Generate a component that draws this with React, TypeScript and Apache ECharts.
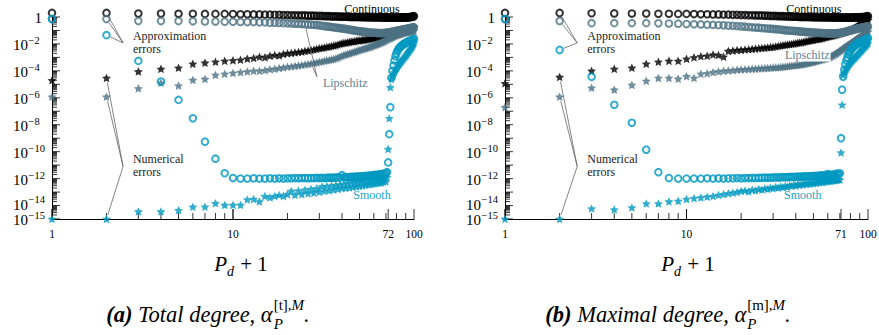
import React, { useEffect, useRef } from 'react';
import * as echarts from 'echarts';

// ---------- data (x = P_d + 1 = 1..100) ----------
const degrees = Array.from({ length: 100 }, (_, i) => i + 1);

// Panel (a): total degree
const contCircA = [2.0, 2.0, 1.8, 1.8, 1.75, 1.75, 1.7, 1.7, 1.7, 1.65,
  1.6, 1.6, 1.55, 1.55, 1.5, 1.5, 1.45, 1.45, 1.4, 1.4,
  1.35, 1.35, 1.3, 1.3, 1.3, 1.25, 1.25, 1.25, 1.2, 1.2,
  1.2, 1.15, 1.15, 1.15, 1.1, 1.1, 1.1, 1.1, 1.05, 1.05,
  1.05, 1.05, 1.05, 1.0, 1.0, 1.0, 1.0, 1.0, 1.0, 0.98,
  0.98, 0.98, 0.97, 0.97, 0.97, 0.96, 0.96, 0.96, 0.95, 0.95,
  0.95, 0.95, 0.94, 0.94, 0.94, 0.94, 0.93, 0.93, 0.93, 0.93,
  0.93, 0.93, 0.92, 0.92, 0.92, 0.92, 0.92, 0.92, 0.92, 0.92,
  0.92, 0.92, 0.92, 0.92, 0.92, 0.93, 0.93, 0.93, 0.94, 0.94,
  0.95, 0.95, 0.96, 0.97, 0.98, 1.0, 1.02, 1.05, 1.1, 1.15];
const contStarA = [2e-5, 3e-5, 9e-5, 1.4e-4, 1.7e-4, 3.3e-4, 4e-4, 4.7e-4, 5.5e-4, 6e-4,
  6.6e-4, 8e-4, 9e-4, 1.1e-3, 1e-3, 1.3e-3, 1.5e-3, 1.4e-3, 1.8e-3, 2e-3,
  2.1e-3, 2.3e-3, 2.5e-3, 2.6e-3, 3e-3, 3.2e-3, 3.5e-3, 3.8e-3, 4.2e-3, 4.8e-3,
  5e-3, 5.5e-3, 6e-3, 6.3e-3, 7e-3, 7.5e-3, 8e-3, 9e-3, 1e-2, 1.1e-2,
  1.2e-2, 1.2e-2, 1.3e-2, 1.4e-2, 1.5e-2, 1.5e-2, 1.6e-2, 1.7e-2, 1.8e-2, 1.8e-2,
  1.9e-2, 2e-2, 2e-2, 2.1e-2, 2.2e-2, 2.3e-2, 2.4e-2, 2.5e-2, 2.6e-2, 2.8e-2,
  3e-2, 3.1e-2, 3.3e-2, 3.5e-2, 3.6e-2, 3.8e-2, 4e-2, 4.2e-2, 4.4e-2, 4.6e-2,
  4.8e-2, 5e-2, 5.3e-2, 5.6e-2, 6e-2, 6.3e-2, 6.6e-2, 7e-2, 7.4e-2, 7.8e-2,
  8.2e-2, 8.6e-2, 9e-2, 9.5e-2, 0.1, 0.105, 0.11, 0.115, 0.12, 0.125,
  0.13, 0.135, 0.14, 0.145, 0.15, 0.155, 0.16, 0.17, 0.18, 0.19];
const lipCircA = [0.7, 0.7, 0.5, 0.5, 0.5, 0.48, 0.47, 0.46, 0.45, 0.44,
  0.43, 0.42, 0.42, 0.4, 0.4, 0.38, 0.38, 0.36, 0.35, 0.34,
  0.33, 0.32, 0.31, 0.3, 0.29, 0.28, 0.27, 0.26, 0.25, 0.24,
  0.22, 0.21, 0.2, 0.19, 0.18, 0.17, 0.16, 0.155, 0.15, 0.14,
  0.135, 0.13, 0.12, 0.115, 0.11, 0.105, 0.1, 0.095, 0.09, 0.088,
  0.085, 0.082, 0.08, 0.078, 0.075, 0.072, 0.07, 0.07, 0.068, 0.068,
  0.066, 0.066, 0.065, 0.065, 0.064, 0.064, 0.065, 0.065, 0.066, 0.067,
  0.068, 0.07, 0.072, 0.075, 0.078, 0.08, 0.083, 0.086, 0.09, 0.093,
  0.096, 0.1, 0.103, 0.106, 0.11, 0.113, 0.116, 0.12, 0.124, 0.128,
  0.132, 0.136, 0.14, 0.144, 0.148, 0.152, 0.156, 0.16, 0.165, 0.17];
const lipStarA = [1.2e-6, 1.2e-6, 5e-6, 1.3e-5, 8e-6, 2.1e-5, 2.5e-5, 5e-5, 6e-5, 7e-5,
  8e-5, 9e-5, 1e-4, 1e-4, 1.1e-4, 1.3e-4, 1.4e-4, 1.6e-4, 1.8e-4, 2e-4,
  2.1e-4, 2.3e-4, 2.5e-4, 2.7e-4, 3e-4, 3.2e-4, 3.5e-4, 3.8e-4, 4.2e-4, 4.7e-4,
  5e-4, 5.5e-4, 6e-4, 6.5e-4, 7e-4, 7.5e-4, 8.5e-4, 9.5e-4, 1.1e-3, 1.3e-3,
  1.5e-3, 1.6e-3, 1.8e-3, 2e-3, 2.2e-3, 2.4e-3, 2.6e-3, 2.9e-3, 3.2e-3, 3.5e-3,
  3.8e-3, 4.1e-3, 4.4e-3, 4.8e-3, 5.2e-3, 5.6e-3, 6e-3, 6.6e-3, 7.2e-3, 7.8e-3,
  8.5e-3, 9.2e-3, 1e-2, 1.1e-2, 1.2e-2, 1.3e-2, 1.4e-2, 1.5e-2, 1.7e-2, 1.9e-2,
  2.1e-2, 2.3e-2, 2.5e-2, 2.8e-2, 3e-2, 3.3e-2, 3.6e-2, 3.9e-2, 4.2e-2, 4.5e-2,
  4.8e-2, 5e-2, 5.3e-2, 5.6e-2, 5.9e-2, 6.2e-2, 6.5e-2, 6.8e-2, 7e-2, 7.3e-2,
  7.5e-2, 7.7e-2, 8e-2, 8.2e-2, 8.4e-2, 8.6e-2, 8.8e-2, 9e-2, 9.2e-2, 9.5e-2];
const smoothCircA = [0.7, 0.045, 5.5e-4, 1.6e-5, 7e-7, 3e-8, 5.5e-10, 3e-11, 2.5e-12, 1.1e-12,
  1e-12, 1e-12, 1.05e-12, 1e-12, 1e-12, 1.05e-12, 1e-12, 1.05e-12, 1e-12, 1.05e-12,
  1.05e-12, 1.1e-12, 1.05e-12, 1.1e-12, 1.1e-12, 1.05e-12, 1.1e-12, 1.1e-12, 1.15e-12, 1.1e-12,
  1.15e-12, 1.1e-12, 1.15e-12, 1.2e-12, 1.15e-12, 1.2e-12, 1.2e-12, 1.25e-12, 1.2e-12, 1.8e-12,
  1.25e-12, 1.3e-12, 1.25e-12, 1.3e-12, 1.35e-12, 1.3e-12, 1.4e-12, 1.35e-12, 1.4e-12, 1.45e-12,
  1.5e-12, 1.45e-12, 1.5e-12, 1.6e-12, 1.55e-12, 1.6e-12, 1.7e-12, 1.65e-12, 1.7e-12, 1.8e-12,
  1.9e-12, 1.8e-12, 1.9e-12, 2e-12, 2.1e-12, 2e-12, 2.2e-12, 2.3e-12, 2.4e-12, 2.6e-12,
  3e-12, 1.6e-11, 2e-9, 2e-7, 3e-5, 1e-4, 2.5e-4, 6e-4, 1.2e-3, 2e-3,
  3e-3, 4e-3, 5e-3, 6e-3, 7e-3, 8e-3, 9e-3, 1e-2, 1.1e-2, 1.2e-2,
  1.3e-2, 1.4e-2, 1.5e-2, 1.6e-2, 1.7e-2, 1.8e-2, 1.9e-2, 2e-2, 2.2e-2, 2.4e-2];
const smoothStarA = [1e-15, 1e-15, 3.6e-15, 3.6e-15, 4.5e-15, 8e-15, 8e-15, 1.5e-14, 1.1e-14, 1.1e-14,
  1.1e-14, 2.8e-14, 3e-14, 2e-14, 5e-14, 4e-14, 5e-14, 6e-14, 5e-14, 7e-14,
  1.2e-13, 6e-14, 1.3e-13, 7e-14, 1.5e-13, 8e-14, 1.7e-13, 9e-14, 1.9e-13, 1e-13,
  2.6e-13, 1.2e-13, 2.8e-13, 1.3e-13, 3e-13, 1.5e-13, 3.3e-13, 1.7e-13, 3.6e-13, 1.9e-13,
  4e-13, 2e-13, 4.4e-13, 2.2e-13, 4.8e-13, 2.4e-13, 5.2e-13, 2.6e-13, 5.6e-13, 2.8e-13,
  6e-13, 3e-13, 6.5e-13, 3.3e-13, 7e-13, 3.6e-13, 7.5e-13, 3.9e-13, 8e-13, 4.2e-13,
  8.6e-13, 4.5e-13, 9.2e-13, 4.8e-13, 1e-12, 5.2e-13, 1.1e-12, 5.6e-13, 1.2e-12, 6e-13,
  1.3e-12, 1.6e-10, 3e-8, 6e-6, 2.5e-5, 4e-5, 6e-5, 8e-5, 1.1e-4, 1.5e-4,
  2e-4, 2.6e-4, 3.3e-4, 4e-4, 5e-4, 6.2e-4, 7.5e-4, 9e-4, 1.1e-3, 1.3e-3,
  1.6e-3, 2e-3, 2.5e-3, 3e-3, 3.7e-3, 4.5e-3, 5.5e-3, 7e-3, 9e-3, 1.2e-2];

// Panel (b): maximal degree
const contCircB = [2.0, 2.0, 1.9, 1.85, 1.8, 1.8, 1.75, 1.75, 1.7, 1.7,
  1.65, 1.6, 1.6, 1.55, 1.55, 1.5, 1.5, 1.45, 1.45, 1.4,
  1.4, 1.35, 1.35, 1.3, 1.3, 1.3, 1.25, 1.25, 1.2, 1.2,
  1.2, 1.15, 1.15, 1.15, 1.1, 1.1, 1.1, 1.05, 1.05, 1.05,
  1.05, 1.0, 1.0, 1.0, 1.0, 1.0, 0.98, 0.98, 0.98, 0.97,
  0.97, 0.97, 0.96, 0.96, 0.96, 0.95, 0.95, 0.95, 0.95, 0.94,
  0.94, 0.94, 0.94, 0.93, 0.93, 0.93, 0.93, 0.93, 0.92, 0.92,
  0.92, 0.92, 0.92, 0.92, 0.92, 0.92, 0.92, 0.92, 0.92, 0.92,
  0.92, 0.92, 0.92, 0.93, 0.93, 0.93, 0.94, 0.94, 0.95, 0.95,
  0.96, 0.97, 0.98, 0.99, 1.0, 1.02, 1.04, 1.07, 1.1, 1.15];
const contStarB = [1.2e-5, 3.5e-5, 1e-4, 1.4e-4, 1.7e-4, 3.3e-4, 4.7e-4, 5.5e-4, 5.5e-4, 7.8e-4,
  1e-3, 1.2e-3, 1.3e-3, 1.6e-3, 1.5e-3, 1.1e-3, 3e-3, 3.2e-3, 3.5e-3, 3.6e-3,
  3.8e-3, 4e-3, 4.2e-3, 4.5e-3, 4.7e-3, 5e-3, 5.2e-3, 5.5e-3, 5.8e-3, 6e-3,
  6.5e-3, 7e-3, 7.5e-3, 8e-3, 8.5e-3, 9e-3, 9.5e-3, 1e-2, 1.05e-2, 1.1e-2,
  1.2e-2, 1.25e-2, 1.3e-2, 1.4e-2, 1.5e-2, 1.6e-2, 1.7e-2, 1.8e-2, 1.9e-2, 2e-2,
  2.1e-2, 2.2e-2, 2.3e-2, 2.4e-2, 2.5e-2, 2.7e-2, 2.9e-2, 3.1e-2, 3.3e-2, 3.5e-2,
  3.7e-2, 3.9e-2, 4.1e-2, 4.3e-2, 4.5e-2, 4.8e-2, 5.1e-2, 5.4e-2, 5.7e-2, 6e-2,
  6.4e-2, 6.8e-2, 7.2e-2, 7.6e-2, 8e-2, 8.5e-2, 9e-2, 9.5e-2, 0.1, 0.11,
  0.12, 0.13, 0.14, 0.15, 0.16, 0.18, 0.2, 0.22, 0.24, 0.26,
  0.28, 0.3, 0.33, 0.36, 0.4, 0.44, 0.48, 0.52, 0.56, 0.6];
const lipCircB = [0.7, 0.5, 0.35, 0.35, 0.35, 0.35, 0.34, 0.33, 0.32, 0.3,
  0.29, 0.28, 0.27, 0.26, 0.25, 0.24, 0.23, 0.22, 0.21, 0.2,
  0.19, 0.18, 0.17, 0.165, 0.16, 0.15, 0.145, 0.14, 0.135, 0.13,
  0.125, 0.12, 0.115, 0.11, 0.105, 0.1, 0.098, 0.095, 0.092, 0.09,
  0.088, 0.085, 0.083, 0.08, 0.078, 0.076, 0.075, 0.073, 0.072, 0.07,
  0.069, 0.068, 0.067, 0.066, 0.065, 0.064, 0.063, 0.062, 0.062, 0.061,
  0.061, 0.06, 0.06, 0.06, 0.06, 0.061, 0.062, 0.063, 0.064, 0.065,
  0.067, 0.07, 0.073, 0.076, 0.08, 0.084, 0.088, 0.092, 0.096, 0.1,
  0.105, 0.11, 0.115, 0.12, 0.125, 0.13, 0.135, 0.14, 0.145, 0.15,
  0.155, 0.16, 0.165, 0.17, 0.175, 0.18, 0.185, 0.19, 0.195, 0.2];
const lipStarB = [2e-7, 1.2e-6, 5.5e-6, 4e-6, 9e-6, 1.8e-5, 3e-5, 3e-5, 2.6e-5, 4e-5,
  3e-5, 6e-5, 6.5e-5, 8e-5, 9e-5, 1e-4, 1.05e-4, 1.1e-4, 1.2e-4, 1.25e-4,
  1.3e-4, 1.35e-4, 1.4e-4, 1.45e-4, 1.5e-4, 1.55e-4, 1.6e-4, 1.65e-4, 1.7e-4, 1.75e-4,
  1.8e-4, 1.85e-4, 1.9e-4, 2e-4, 2.1e-4, 2.2e-4, 2.3e-4, 2.4e-4, 2.5e-4, 2.6e-4,
  2.7e-4, 2.8e-4, 3e-4, 3.2e-4, 3.4e-4, 3.6e-4, 3.8e-4, 4e-4, 4.3e-4, 4.6e-4,
  5e-4, 5.4e-4, 5.8e-4, 6.2e-4, 6.6e-4, 7e-4, 7.5e-4, 8e-4, 8.6e-4, 9.2e-4,
  1e-3, 1.1e-3, 1.25e-3, 1.4e-3, 1.6e-3, 1.8e-3, 2e-3, 2.3e-3, 2.6e-3, 3e-3,
  3.4e-3, 3.9e-3, 4.5e-3, 5.2e-3, 6e-3, 6.8e-3, 7.6e-3, 8.5e-3, 9.5e-3, 1.05e-2,
  1.2e-2, 1.35e-2, 1.5e-2, 1.7e-2, 1.9e-2, 2.1e-2, 2.3e-2, 2.6e-2, 2.9e-2, 3.2e-2,
  3.5e-2, 3.9e-2, 4.3e-2, 4.8e-2, 5.3e-2, 5.8e-2, 6.4e-2, 7e-2, 7.6e-2, 8.2e-2];
const smoothCircB = [0.7, 3.6e-3, 3.6e-5, 3e-7, 1.4e-8, 1.4e-10, 3e-12, 1.1e-12, 1e-12, 1e-12,
  1e-12, 1e-12, 1.05e-12, 1e-12, 1.05e-12, 1e-12, 1.05e-12, 1.05e-12, 1.1e-12, 1.05e-12,
  1.1e-12, 1.1e-12, 1.15e-12, 1.1e-12, 1.15e-12, 1.15e-12, 1.2e-12, 1.15e-12, 1.2e-12, 1.2e-12,
  1.25e-12, 1.2e-12, 1.25e-12, 1.3e-12, 1.25e-12, 1.3e-12, 1.3e-12, 1.35e-12, 1.3e-12, 1.35e-12,
  1.4e-12, 1.35e-12, 1.4e-12, 1.45e-12, 1.4e-12, 1.5e-12, 1.45e-12, 1.5e-12, 1.55e-12, 1.5e-12,
  1.6e-12, 1.55e-12, 1.6e-12, 1.65e-12, 1.7e-12, 1.65e-12, 1.7e-12, 1.8e-12, 1.75e-12, 2.2e-12,
  1.8e-12, 1.9e-12, 1.85e-12, 1.9e-12, 2e-12, 1.95e-12, 2.4e-12, 2.1e-12, 2.2e-12, 2.5e-12,
  1e-9, 4e-6, 3.6e-5, 1.2e-4, 3e-4, 6e-4, 1e-3, 1.6e-3, 2.2e-3, 3e-3,
  4e-3, 5e-3, 6e-3, 7e-3, 8e-3, 9e-3, 1e-2, 1.1e-2, 1.2e-2, 1.3e-2,
  1.4e-2, 1.5e-2, 1.6e-2, 1.7e-2, 1.8e-2, 1.9e-2, 2e-2, 2.2e-2, 2.4e-2, 2.6e-2];
const smoothStarB = [1e-15, 1e-15, 6e-15, 5e-15, 7e-15, 1.4e-14, 1.4e-14, 2e-14, 2.2e-14, 3e-14,
  3.5e-14, 4e-14, 4.5e-14, 5e-14, 6e-14, 7e-14, 8e-14, 9e-14, 1e-13, 1.2e-13,
  1.3e-13, 1.1e-13, 1.5e-13, 1.3e-13, 1.7e-13, 1.5e-13, 1.9e-13, 1.7e-13, 2.1e-13, 1.9e-13,
  2.4e-13, 2.1e-13, 2.6e-13, 2.3e-13, 2.9e-13, 2.5e-13, 3.2e-13, 2.8e-13, 3.5e-13, 3e-13,
  3.8e-13, 3.3e-13, 4.1e-13, 3.6e-13, 4.4e-13, 3.9e-13, 4.7e-13, 4.2e-13, 5e-13, 4.5e-13,
  5.4e-13, 4.8e-13, 5.8e-13, 5.1e-13, 6.2e-13, 5.4e-13, 6.6e-13, 5.8e-13, 7e-13, 6.2e-13,
  7.4e-13, 6.6e-13, 7.8e-13, 7e-13, 8.3e-13, 7.4e-13, 8.8e-13, 7.8e-13, 9.3e-13, 8.3e-13,
  8.5e-11, 3e-7, 5e-5, 7e-5, 1e-4, 1.4e-4, 1.9e-4, 2.5e-4, 3.2e-4, 4e-4,
  5e-4, 6e-4, 7.2e-4, 8.5e-4, 1e-3, 1.2e-3, 1.4e-3, 1.7e-3, 2e-3, 2.4e-3,
  2.8e-3, 3.3e-3, 3.9e-3, 4.6e-3, 5.4e-3, 6.3e-3, 7.4e-3, 8.6e-3, 1e-2, 1.2e-2];

// axis tick labels
const xLabelValsA = [1, 10, 72, 100];
const xLabelsA = ['1', '10', '72', '100'];
const xLabelValsB = [1, 10, 71, 100];
const xLabelsB = ['1', '10', '71', '100'];
const yLabelVals = [1, 1e-2, 1e-4, 1e-6, 1e-8, 1e-10, 1e-12, 1e-14, 1e-15];
const yLabelExps = ['0', '−2', '−4', '−6', '−8', '−10', '−12', '−14', '−15'];

// ---------- style ----------
const FAM = '"Liberation Serif", "Times New Roman", serif';
const BLACK = '#000000';
const LIP = '#4d7283';
const SMOOTH = '#0098c1';
const Y_MIN = 1e-15;
const STAR = 'path://M0,-50L14.11,-19.42L47.55,-15.45L22.83,7.42L29.39,40.45L0,24L-29.39,40.45L-22.83,7.42L-47.55,-15.45L-14.11,-19.42Z';

let _ctx: CanvasRenderingContext2D | null = null;
function tw(text: string, font: string) {
  if (!_ctx) _ctx = document.createElement('canvas').getContext('2d');
  _ctx!.font = font;
  return _ctx!.measureText(text).width;
}

function scatter(grid: number, vals: number[], color: string, kind: 'circle' | 'star', z: number) {
  const data = degrees.map((d, i) => [d, vals[i]]);
  if (kind === 'circle') {
    return {
      type: 'scatter', xAxisIndex: grid, yAxisIndex: grid, data, symbol: 'circle', symbolSize: 6.6,
      itemStyle: { color: 'rgba(0,0,0,0)', borderColor: color, borderWidth: 2 },
      clip: false, silent: true, z,
    };
  }
  return {
    type: 'scatter', xAxisIndex: grid, yAxisIndex: grid, data, symbol: STAR, symbolSize: 9,
    symbolKeepAspect: true, itemStyle: { color, borderWidth: 0 }, clip: false, silent: true, z,
  };
}

function decor(grid: number, xVals: number[], xLabels: string[]) {
  const fBase = `15px ${FAM}`, fSup = `10.5px ${FAM}`;
  const w10 = tw('10', fBase);
  return {
    type: 'custom', xAxisIndex: grid, yAxisIndex: grid, data: [[1, 1]], silent: true, clip: false, z: 1,
    renderItem: (_p: any, api: any) => {
      const ch: any[] = [];
      const line = (x1: number, y1: number, x2: number, y2: number) =>
        ch.push({ type: 'line', shape: { x1, y1, x2, y2 }, style: { stroke: '#000', lineWidth: 0.8 } });
      for (const dec of [1, 10]) {
        for (let m = 1; m <= 9; m++) {
          const p = api.coord([dec * m, Y_MIN]);
          line(p[0], p[1], p[0], p[1] - (m === 1 ? 10 : 6));
        }
      }
      xVals.forEach((v) => {
        const p = api.coord([v, Y_MIN]);
        line(p[0], p[1], p[0], p[1] - 10);
      });
      for (let e = -15; e <= 0; e++) {
        for (let m = 1; m <= 9; m++) {
          const v = m * Math.pow(10, e);
          if (v > 1.0001) break;
          const p = api.coord([1, v]);
          line(p[0], p[1], p[0] + (m === 1 ? 8 : 5), p[1]);
        }
      }
      xVals.forEach((v, i) => {
        const p = api.coord([v, Y_MIN]);
        ch.push({ type: 'text', x: p[0], y: p[1] + 9, style: { text: xLabels[i], font: `11.5px ${FAM}`, fill: '#000', align: 'center', verticalAlign: 'top' } });
      });
      yLabelVals.forEach((v, i) => {
        const p = api.coord([1, v]);
        if (yLabelExps[i] === '0') {
          ch.push({ type: 'text', x: p[0] - 10, y: p[1] + 1, style: { text: '1', font: fBase, fill: '#000', align: 'right', verticalAlign: 'middle' } });
        } else {
          const x0 = p[0] - 39;
          const dy = yLabelExps[i] === '−14' ? -1 : (yLabelExps[i] === '−15' ? 1 : 1.5);
          ch.push({ type: 'text', x: x0, y: p[1] + dy, style: { text: '10', font: fBase, fill: '#000', align: 'left', verticalAlign: 'middle' } });
          ch.push({ type: 'text', x: x0 + w10 + 0.5, y: p[1] + dy - 5, style: { text: yLabelExps[i], font: fSup, fill: '#000', align: 'left', verticalAlign: 'middle' } });
        }
      });
      return { type: 'group', children: ch };
    },
  };
}

type Ann = { texts: any[]; pointers: { joint: number[]; to: number[][] }[] };

const annA: Ann = {
  texts: [
    { text: 'Continuous', at: [58.6, 3.8], align: 'center', color: '#000' },
    { text: 'Approximation\nerrors', at: [2.8, 0.013], align: 'left', color: '#222' },
    { text: 'Numerical\nerrors', at: [2.8, 1e-11], align: 'left', color: '#222' },
    { text: 'Lipschitz', at: [31.4, 1.3e-5], align: 'left', color: '#5e8191' },
    { text: 'Smooth', at: [58.6, 6.5e-14], align: 'center', color: '#1aa2c9' },
  ],
  pointers: [
    { joint: [2.47, 0.0119], to: [[2, contCircA[1]], [2, lipCircA[1]], [2, smoothCircA[1]]] },
    { joint: [2.47, 8e-12], to: [[2, contStarA[1]], [2, lipStarA[1]], [2, smoothStarA[1]]] },
    { joint: [29.1, 3.6e-5], to: [[25, lipCircA[24]], [27, lipStarA[26]]] },
  ],
};
const annB: Ann = {
  texts: [
    { text: 'Continuous', at: [50.3, 3.8], align: 'center', color: '#000' },
    { text: 'Approximation\nerrors', at: [2.84, 0.013], align: 'left', color: '#222' },
    { text: 'Numerical\nerrors', at: [2.84, 1e-11], align: 'left', color: '#222' },
    { text: 'Lipschitz', at: [34.4, 1.4e-3], align: 'left', color: '#5e8191', bg: true },
    { text: 'Smooth', at: [43.7, 6.5e-14], align: 'center', color: '#1aa2c9' },
  ],
  pointers: [
    { joint: [2.5, 0.0119], to: [[2, contCircB[1]], [2, lipCircB[1]], [2, smoothCircB[1]]] },
    { joint: [2.5, 8e-12], to: [[2, contStarB[1]], [2, lipStarB[1]], [2, smoothStarB[1]]] },
  ],
};

function annotations(grid: number, ann: Ann) {
  return {
    type: 'custom', xAxisIndex: grid, yAxisIndex: grid, data: [[1, 1]], silent: true, clip: false, z: 6,
    renderItem: (_p: any, api: any) => {
      const ch: any[] = [];
      ann.pointers.forEach((pt) => {
        const j = api.coord(pt.joint);
        pt.to.forEach((t) => {
          const q = api.coord(t);
          const dx = q[0] - j[0], dy = q[1] - j[1];
          const len = Math.sqrt(dx * dx + dy * dy);
          const k = (len - 4.5) / len;
          ch.push({ type: 'line', shape: { x1: j[0], y1: j[1], x2: j[0] + dx * k, y2: j[1] + dy * k }, style: { stroke: '#666', lineWidth: 0.8 } });
        });
      });
      ann.texts.forEach((t) => {
        const p = api.coord(t.at);
        const lines = String(t.text).split('\n');
        const lh = 13;
        lines.forEach((ln: string, li: number) => {
          const style: any = { text: ln, font: `12px ${FAM}`, fill: t.color, align: t.align, verticalAlign: 'middle' };
          if (t.bg) { style.backgroundColor = '#ffffff'; style.padding = [0, 1]; }
          ch.push({ type: 'text', x: p[0], y: p[1] + (li - (lines.length - 1) / 2) * lh, style });
        });
      });
      return { type: 'group', children: ch };
    },
  };
}

function txt(x: number, y: number, text: string, font: string) {
  return { type: 'text', x, y, silent: true, style: { text, font, fill: '#000', align: 'left', verticalAlign: 'middle' } };
}

function axisTitle(cx: number, cy: number) {
  const fBig = `italic 21px ${FAM}`, fSub = `italic 14px ${FAM}`, fUp = `21px ${FAM}`;
  const w1 = tw('P', fBig), w2 = tw('d', fSub), w3 = tw(' + 1', fUp);
  let x = cx - (w1 + w2 + 1 + w3) / 2;
  const els = [txt(x, cy, 'P', fBig)];
  x += w1;
  els.push(txt(x, cy + 7, 'd', fSub));
  x += w2 + 1;
  els.push(txt(x, cy, ' + 1', fUp));
  return els;
}

function caption(cx: number, cy: number, label: string, body: string, supUp: string) {
  const fs = 22.5, sm = 15;
  const fB = `italic bold ${fs}px ${FAM}`, fI = `italic ${fs}px ${FAM}`;
  const fSI = `italic ${sm}px ${FAM}`, fS = `${sm}px ${FAM}`;
  const w1 = tw(label, fB), w2 = tw(body, fI);
  const wSub = tw('P', fSI), wUp = tw(supUp, fS), wIt = tw(',M', fSI), wDot = tw('.', fI);
  const wMid = Math.max(wSub + 1, wUp + wIt);
  let x = cx - (w1 + w2 + wMid + wDot + 1) / 2;
  const els = [txt(x, cy, label, fB)];
  x += w1;
  els.push(txt(x, cy, body, fI));
  x += w2;
  els.push(txt(x + 1, cy + 10, 'P', fSI));
  els.push(txt(x + 1, cy - 9, supUp, fS));
  els.push(txt(x + 1 + wUp, cy - 9, ',M', fSI));
  x += wMid + 1;
  els.push(txt(x, cy, '.', fI));
  return els;
}

function axes(grid: number) {
  const common = {
    gridIndex: grid, type: 'log', logBase: 10,
    axisLine: { show: true, lineStyle: { color: '#000', width: 1 } },
    axisTick: { show: false }, axisLabel: { show: false }, splitLine: { show: false },
  };
  return {
    x: { ...common, min: 1, max: 100 },
    y: { ...common, min: Y_MIN, max: 1 },
  };
}

export default function App() {
  const ref = useRef<HTMLDivElement>(null);
  useEffect(() => {
    if (!ref.current) return;
    const chart = echarts.init(ref.current, null, { renderer: 'svg' });
    const a0 = axes(0), a1 = axes(1);
    const option: any = {
      animation: false,
      backgroundColor: '#ffffff',
      grid: [
        { left: 52, top: 17, width: 362, height: 202 },
        { left: 505, top: 17, width: 363, height: 202 },
      ],
      xAxis: [a0.x, a1.x],
      yAxis: [a0.y, a1.y],
      series: [
        decor(0, xLabelValsA, xLabelsA),
        decor(1, xLabelValsB, xLabelsB),
        scatter(0, contCircA, BLACK, 'circle', 2),
        scatter(0, contStarA, BLACK, 'star', 2),
        scatter(0, lipCircA, LIP, 'circle', 3),
        scatter(0, lipStarA, LIP, 'star', 3),
        scatter(0, smoothCircA, SMOOTH, 'circle', 4),
        scatter(0, smoothStarA, SMOOTH, 'star', 4),
        scatter(1, contCircB, BLACK, 'circle', 2),
        scatter(1, contStarB, BLACK, 'star', 2),
        scatter(1, lipCircB, LIP, 'circle', 3),
        scatter(1, lipStarB, LIP, 'star', 3),
        scatter(1, smoothCircB, SMOOTH, 'circle', 4),
        scatter(1, smoothStarB, SMOOTH, 'star', 4),
        annotations(0, annA),
        annotations(1, annB),
      ],
      graphic: [
        ...axisTitle(241, 264),
        ...axisTitle(688, 264),
        ...caption(208, 314, '(a)', ' Total degree, α', '[t]'),
        ...caption(668, 314, '(b)', ' Maximal degree, α', '[m]'),
      ],
    };
    chart.setOption(option);
    return () => chart.dispose();
  }, []);
  return <div ref={ref} style={{ position: 'fixed', left: 0, top: 0, width: 879, height: 335, background: '#fff' }} />;
}
